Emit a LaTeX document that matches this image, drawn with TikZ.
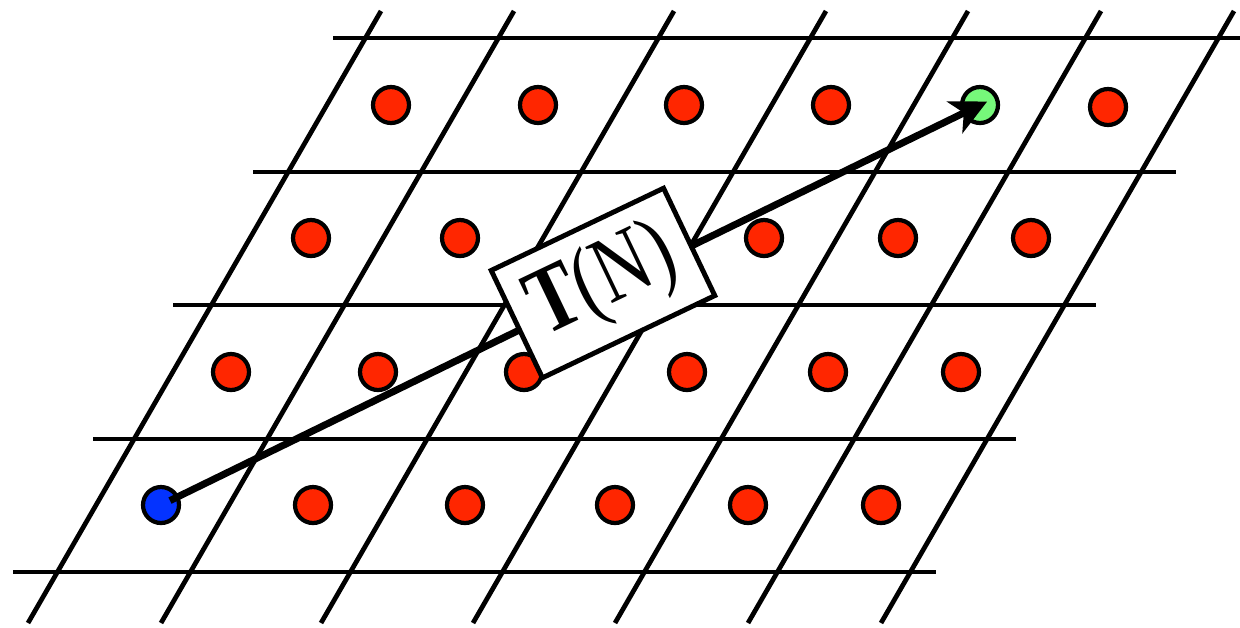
\documentclass[tikz,border=0pt]{standalone}
\usepackage{fontspec}
\setmainfont{Liberation Serif}
\usepackage{graphicx}
\usetikzlibrary{arrows.meta}
\definecolor{ptred}{HTML}{FF2600}
\definecolor{ptblue}{HTML}{0433FF}
\definecolor{ptgreen}{HTML}{76F87A}
\begin{document}
\begin{tikzpicture}[
    x=0.02cm, y=-0.02cm,
    latline/.style={line width=2.7pt},
    site/.style={draw, circle, line width=2.4pt, minimum size=0.72cm, inner sep=0pt},
    redpt/.style={site, fill=ptred},
    tnbox/.style={draw, fill=white, rectangle, line width=2.8pt, minimum width=3.82cm, minimum height=2.38cm, inner sep=0pt, font=\fontsize{54}{54}\selectfont},
    >={Stealth[length=0.72cm, width=0.7cm, inset=0.2cm]}
]
\useasboundingbox (0,0) rectangle (1240,627);
% lattice rows
\foreach \y/\xa/\xb in {38/333/1240, 172/253/1176, 305/173/1096, 439/93/1016, 572/13/936}
  \draw[latline] (\xa,\y) -- (\xb,\y);
% lattice slanted lines
\foreach \xb in {28, 161, 321, 473, 615, 748, 881}
  \draw[latline] (\xb,623) -- ++(353,-612);
% sites
\foreach \x/\y [count=\i] in {391/105, 538/105, 684/105, 831/105, 1108/107,
    311/238, 460/238, 764/238, 898/238, 1031/238,
    231/372, 378/372, 524/372, 687/372, 828/372, 961/372,
    313/505, 465/505, 615/505, 748/505, 881/505}
  \node[redpt] (r\i) at (\x,\y) {};
\node[site, fill=ptblue] (src) at (161,505) {};
\node[site, fill=ptgreen] (dst) at (980,105) {};
% translation vector
\draw[->, line width=4pt, shorten <=0.2cm, shorten >=-0.16cm] (src.center) -- (dst.center);
\node[tnbox, rotate=25.5] (tn) at (603,283) {\scalebox{0.78}[1]{\textbf{T}(N)}};
\end{tikzpicture}
\end{document}
